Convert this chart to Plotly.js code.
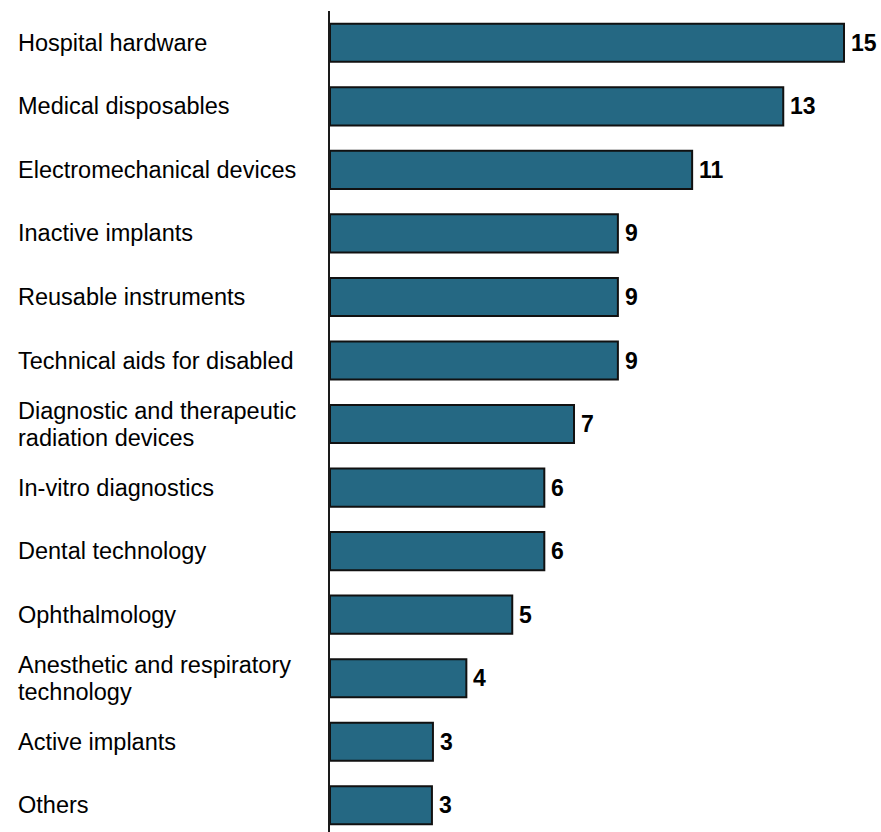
<!DOCTYPE html>
<html>
<head>
<meta charset="utf-8">
<script src="https://cdn.plot.ly/plotly-3.0.1.min.js"></script>
<style>html,body{margin:0;padding:0;background:#fff;}#chart{width:881px;height:832px;}</style>
</head>
<body>
<div id="chart"></div>
<script>
const categories = [
  "Hospital hardware",
  "Medical disposables",
  "Electromechanical devices",
  "Inactive implants",
  "Reusable instruments",
  "Technical aids for disabled",
  "Diagnostic and therapeutic<br>radiation devices",
  "In-vitro diagnostics",
  "Dental technology",
  "Ophthalmology",
  "Anesthetic and respiratory<br>technology",
  "Active implants",
  "Others"
];
const values = [15.23, 13.43, 10.73, 8.53, 8.53, 8.53, 7.23, 6.35, 6.35, 5.40, 4.04, 3.05, 3.02];

const W = 881, H = 832;
const margin = {l: 330, r: 13, t: 11, b: 0};
const plotW = W - margin.l - margin.r;
const FONT = 'Liberation Sans, Arial, sans-serif';
const LABEL_SIZE = 23.5;
const LINE_GAP = 27;

const trace = {
  type: 'bar',
  orientation: 'h',
  y: categories,
  x: values,
  marker: {color: '#256883', line: {color: '#111111', width: 2}},
  cliponaxis: false,
  hoverinfo: 'skip'
};

const annotations = [];
categories.forEach(c => {
  const lines = c.split('<br>');
  lines.forEach((ln, i) => {
    annotations.push({
      xref: 'paper', yref: 'y',
      x: (18 - margin.l) / plotW, y: c,
      xanchor: 'left', yanchor: 'middle',
      xshift: -2,
      yshift: ((lines.length - 1) / 2 - i) * LINE_GAP,
      align: 'left',
      text: ln,
      showarrow: false,
      font: {family: FONT, size: LABEL_SIZE, color: '#000'}
    });
  });
});
values.forEach((v, i) => {
  annotations.push({
    xref: 'x', yref: 'y',
    x: v, y: categories[i],
    xanchor: 'left', yanchor: 'middle',
    xshift: 5,
    text: '<b>' + Math.round(v) + '</b>',
    showarrow: false,
    font: {family: FONT, size: 23, color: '#000'}
  });
});

const layout = {
  width: W, height: H,
  margin: margin,
  paper_bgcolor: '#fff', plot_bgcolor: '#fff',
  showlegend: false,
  bargap: 0.4,
  xaxis: {range: [0, plotW / 33.75], visible: false, fixedrange: true},
  yaxis: {
    type: 'category',
    categoryorder: 'array', categoryarray: categories,
    range: [12.42, -0.5],
    showticklabels: false, ticks: '',
    showgrid: false, zeroline: false,
    showline: true, linecolor: '#1a1a1a', linewidth: 2
  },
  annotations: annotations
};

Plotly.newPlot('chart', [trace], layout, {displayModeBar: false, staticPlot: true});
</script>
</body>
</html>
